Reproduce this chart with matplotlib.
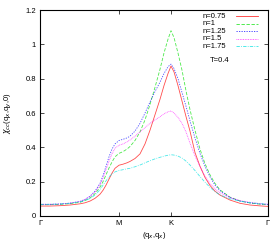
import matplotlib
matplotlib.use('Agg')
import matplotlib.pyplot as plt

plt.rcParams['font.family'] = ['Liberation Sans', 'DejaVu Sans']
plt.rcParams['mathtext.fontset'] = 'dejavusans'

# path coordinate along Gamma -> M -> K -> Gamma
path = [0, 10, 20, 30, 40, 45, 50, 55, 60, 63, 66, 69, 72, 75, 79, 83, 87, 90,
        95, 100, 105, 110, 115, 120, 124, 128, 131, 134, 138, 142, 146, 150,
        155, 160, 165, 170, 175, 180, 190, 200, 210, 220, 228]
tick_pos = [0, 79, 131, 228]
tick_labels = ['Γ', 'M', 'K', 'Γ']

chi_075 = [0.058, 0.058, 0.060, 0.064, 0.071, 0.077, 0.087, 0.103, 0.127, 0.150,
           0.180, 0.215, 0.250, 0.278, 0.296, 0.302, 0.310, 0.318, 0.335, 0.362,
           0.420, 0.500, 0.590, 0.680, 0.760, 0.830, 0.874, 0.840, 0.760, 0.670,
           0.580, 0.495, 0.370, 0.290, 0.225, 0.178, 0.145, 0.122, 0.093, 0.074,
           0.064, 0.059, 0.056]
chi_100 = [0.066, 0.066, 0.068, 0.072, 0.080, 0.090, 0.105, 0.130, 0.168, 0.200,
           0.240, 0.280, 0.315, 0.345, 0.365, 0.375, 0.390, 0.405, 0.440, 0.490,
           0.560, 0.650, 0.750, 0.855, 0.950, 1.030, 1.080, 1.040, 0.950, 0.850,
           0.730, 0.620, 0.500, 0.390, 0.305, 0.240, 0.190, 0.152, 0.110, 0.088,
           0.076, 0.069, 0.066]
chi_125 = [0.068, 0.068, 0.070, 0.075, 0.085, 0.097, 0.115, 0.145, 0.190, 0.235,
           0.290, 0.345, 0.390, 0.420, 0.440, 0.447, 0.455, 0.465, 0.495, 0.540,
           0.600, 0.665, 0.725, 0.780, 0.830, 0.870, 0.885, 0.860, 0.800, 0.720,
           0.640, 0.555, 0.455, 0.365, 0.290, 0.228, 0.180, 0.148, 0.108, 0.087,
           0.076, 0.070, 0.068]
chi_150 = [0.068, 0.068, 0.070, 0.075, 0.085, 0.096, 0.113, 0.140, 0.182, 0.222,
           0.270, 0.320, 0.362, 0.395, 0.412, 0.420, 0.432, 0.443, 0.465, 0.490,
           0.515, 0.540, 0.560, 0.578, 0.595, 0.607, 0.612, 0.600, 0.575, 0.540,
           0.490, 0.425, 0.350, 0.288, 0.232, 0.190, 0.158, 0.136, 0.107, 0.090,
           0.080, 0.072, 0.068]
chi_175 = [0.068, 0.068, 0.070, 0.074, 0.082, 0.090, 0.102, 0.122, 0.153, 0.180,
           0.205, 0.228, 0.245, 0.257, 0.265, 0.270, 0.275, 0.278, 0.287, 0.297,
           0.310, 0.322, 0.333, 0.342, 0.349, 0.354, 0.357, 0.355, 0.349, 0.338,
           0.320, 0.297, 0.265, 0.230, 0.197, 0.167, 0.142, 0.123, 0.100, 0.086,
           0.078, 0.072, 0.068]

series = [
    ('n=0.75', chi_075, '#ff0000', '-'),
    ('n=1', chi_100, '#00e000', (0, (4, 2))),
    ('n=1.25', chi_125, '#0000ff', (0, (1.5, 1.5))),
    ('n=1.5', chi_150, '#ff00ff', (0, (1, 1))),
    ('n=1.75', chi_175, '#00e0e0', (0, (4, 1.5, 1, 1.5))),
]

fig = plt.figure(figsize=(2.8, 2.4), dpi=100)
ax = fig.add_axes([0.143, 0.1, 0.814, 0.858])

for label, vals, col, ls in series:
    ax.plot(path, vals, color=col, ls=ls, lw=0.6, alpha=0.7)

# gnuplot style key: left-justified text, sample line to the right
for i, (label, vals, col, ls) in enumerate(series):
    yk = 0.971 - i * 0.0365
    ax.text(0.715, yk, label, transform=ax.transAxes, fontsize=5.5,
            ha='left', va='center')
    ax.plot([0.86, 0.956], [yk, yk], transform=ax.transAxes, color=col,
            ls=ls, lw=0.6, alpha=0.8)
ax.text(0.79, 0.757, 'T=0.4', transform=ax.transAxes, fontsize=5.5,
        ha='center', va='center')

ax.set_xlim(0, 228)
ax.set_ylim(0, 1.2)
ax.set_xticks(tick_pos)
ax.set_xticklabels(tick_labels)
ax.set_yticks([0, 0.2, 0.4, 0.6, 0.8, 1.0, 1.2])
ax.set_yticklabels(['0', '0.2', '0.4', '0.6', '0.8', '1', '1.2'])
ax.tick_params(direction='in', length=3, width=0.5, labelsize=5.5,
               top=True, right=True, pad=3)
for sp in ax.spines.values():
    sp.set_linewidth(0.8)

ax.set_xlabel(r'(q$_x$,q$_x$)', fontsize=5.5)
ax.xaxis.set_label_coords(0.5, -0.07)
ax.set_ylabel(r'$\chi_{cc}$(q$_x$,q$_y$,0)', fontsize=5.5)
ax.yaxis.set_label_coords(-0.115, 0.5)

fig.savefig('out.png', dpi=100)
